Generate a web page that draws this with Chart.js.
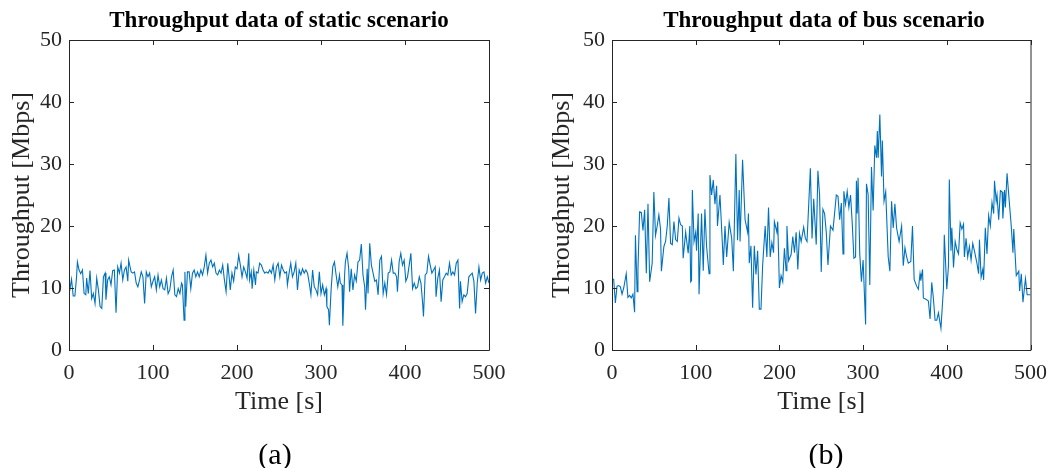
<!DOCTYPE html>
<html>
<head>
<meta charset="utf-8">
<script src="https://cdn.jsdelivr.net/npm/chart.js@4/dist/chart.umd.min.js"></script>
<style>
  body { margin: 0; background: #fff; }
  #wrap { position: relative; width: 1057px; height: 468px; font-family: "Liberation Serif", "Times New Roman", serif; }
  .panel { position: absolute; top: 0; height: 468px; }
  .title { position: absolute; top: 8px; font-weight: bold; font-size: 23px; line-height: 24px; color: #000; transform: translateX(-50%); white-space: nowrap; }
  .caption { position: absolute; top: 439px; font-size: 30px; line-height: 30px; color: #000; transform: translateX(-50%); }
</style>
</head>
<body>
<div id="wrap">
  <div class="panel" style="left:0;width:530px"><canvas id="staticChart" width="530" height="468"></canvas></div>
  <div class="panel" style="left:540px;width:517px"><canvas id="busChart" width="517" height="468"></canvas></div>
  <div class="title" style="left:279px">Throughput data of static scenario</div>
  <div class="title" style="left:824px">Throughput data of bus scenario</div>
  <div class="caption" style="left:275px">(a)</div>
  <div class="caption" style="left:826px">(b)</div>
</div>
<script>
// axis ticks
const timeTicks = [0, 100, 200, 300, 400, 500];
const throughputTicks = [0, 10, 20, 30, 40, 50];

// [time s, throughput Mbps]
const staticSamples = [
  [0,8.9],[3,11.4],[5,8.7],[7,8.7],[9,11.8],[10,14.2],[12,12.9],[14,12.3],[16,12.9],[18,9.1],
  [20,8.9],[21,11.6],[23,9.1],[25,12.8],[27,8.3],[29,9.1],[31,7.5],[33,11.6],[35,9.7],[37,7.0],
  [39,6.7],[41,11.8],[43,12.4],[44,8.1],[46,11.3],[48,11.8],[50,10.5],[52,12.8],[54,12.9],[56,6.0],
  [58,13.4],[60,12.4],[62,14.0],[64,11.3],[66,12.9],[68,13.4],[70,11.1],[71,14.5],[74,12.6],[76,12.4],
  [78,12.6],[80,10.8],[82,10.2],[84,11.3],[86,12.6],[88,11.8],[90,7.5],[92,12.6],[94,11.8],[96,12.4],
  [98,10.2],[100,11.1],[102,11.8],[104,9.7],[106,12.1],[108,10.2],[110,11.3],[112,9.9],[114,9.7],[116,11.6],
  [118,9.1],[120,9.7],[122,11.8],[124,12.9],[126,8.9],[128,8.6],[130,9.9],[132,9.1],[134,10.8],[135,10.5],
  [137,4.8],[138,12.6],[139,7.0],[141,12.6],[143,12.6],[145,9.9],[147,12.4],[149,12.9],[151,11.8],[153,12.6],
  [155,11.8],[157,12.9],[159,12.1],[161,13.4],[163,15.3],[165,12.4],[167,14.0],[169,14.5],[171,13.4],[173,14.0],
  [175,12.4],[177,12.1],[179,12.9],[181,12.4],[183,13.7],[185,11.3],[187,9.4],[189,14.0],[191,11.3],[192,9.7],
  [194,12.4],[196,11.1],[198,13.4],[200,13.1],[202,15.3],[204,13.7],[206,11.8],[208,13.4],[210,12.6],[212,11.6],
  [214,15.6],[215,11.3],[217,12.6],[218,9.9],[220,12.9],[222,10.5],[223,12.6],[225,12.4],[227,14.0],[229,13.7],
  [231,12.9],[233,12.4],[235,12.6],[237,12.4],[239,12.9],[241,12.4],[243,13.7],[245,11.3],[247,13.4],[249,14.0],
  [251,11.8],[253,13.7],[255,12.9],[257,12.4],[259,12.6],[260,10.5],[262,12.4],[264,14.0],[266,11.8],[268,12.6],
  [270,14.0],[272,9.7],[274,12.9],[276,12.1],[278,13.1],[280,12.4],[282,12.9],[284,12.4],[286,10.8],[288,8.9],
  [290,12.9],[292,10.2],[294,9.7],[296,8.9],[298,12.6],[300,9.1],[302,10.5],[304,8.9],[306,9.9],[307,7.0],
  [309,6.5],[310,4.0],[312,9.7],[314,13.4],[316,14.2],[318,12.1],[320,10.2],[322,12.1],[323,10.8],[325,10.5],
  [326,3.9],[328,11.8],[329,14.2],[331,15.6],[333,13.1],[334,9.4],[336,13.1],[338,9.7],[340,12.1],[342,11.1],
  [344,14.2],[346,14.5],[348,17.1],[350,12.1],[352,10.2],[353,6.5],[355,13.1],[356,9.1],[358,17.2],[360,13.7],
  [362,12.4],[364,11.1],[366,11.3],[368,8.9],[370,14.5],[372,15.1],[374,9.1],[376,10.8],[378,8.9],[380,12.4],
  [382,12.6],[384,14.5],[386,12.4],[388,12.4],[390,11.8],[391,9.4],[393,14.2],[395,15.6],[397,13.7],[399,14.5],
  [401,11.1],[403,11.8],[405,13.7],[407,15.6],[409,9.9],[411,10.8],[413,9.9],[415,10.2],[417,11.8],[419,10.8],
  [421,7.5],[422,5.4],[424,12.1],[426,12.4],[428,15.1],[430,13.7],[432,12.4],[434,12.9],[436,13.4],[437,8.6],
  [439,11.6],[441,12.9],[443,7.8],[445,11.3],[447,11.8],[449,12.4],[451,12.1],[453,14.0],[455,12.1],[457,12.6],
  [459,12.1],[461,14.0],[463,14.5],[465,6.7],[466,11.1],[468,7.8],[470,8.9],[472,8.6],[474,9.1],[476,11.8],
  [478,12.1],[480,12.4],[482,11.1],[484,5.9],[486,10.8],[488,13.4],[490,11.3],[492,12.4],[494,12.6],[496,10.8],
  [498,11.8],[500,10.8]
];

// [time s, throughput Mbps]
const busSamples = [
  [0,11.5],[2,11.4],[4,7.6],[6,10.3],[8,10.4],[10,10.2],[12,9.0],[14,10.0],[17,12.3],[19,8.5],
  [21,8.8],[23,8.4],[25,9.0],[27,6.1],[28,18.5],[30,9.4],[31,13.0],[33,22.3],[35,22.2],[37,19.3],
  [39,22.6],[41,12.4],[43,23.6],[45,11.0],[48,14.0],[50,25.5],[52,18.5],[54,20.0],[56,21.8],[58,19.5],
  [59,12.7],[62,16.7],[64,17.5],[66,20.0],[68,24.5],[70,17.2],[72,17.0],[74,20.7],[76,17.8],[78,17.5],
  [80,21.3],[82,20.2],[84,20.0],[85,14.8],[88,19.0],[91,15.6],[93,20.0],[94,11.0],[95,11.2],[96,25.8],
  [98,17.5],[100,19.0],[101,16.0],[103,22.0],[104,9.0],[107,22.0],[109,12.8],[111,22.7],[113,16.7],[116,12.3],
  [117,28.2],[119,25.0],[121,27.4],[123,23.5],[125,26.5],[126,20.0],[129,25.0],[132,16.8],[133,13.7],[135,20.0],
  [137,15.0],[140,20.6],[143,18.0],[145,12.7],[148,31.6],[150,17.7],[152,25.8],[153,17.5],[156,30.7],[159,21.0],
  [162,19.0],[163,22.0],[164,14.0],[166,16.8],[168,6.8],[170,16.8],[172,12.2],[174,16.0],[176,6.6],[178,6.6],
  [180,13.7],[183,20.0],[185,15.0],[187,23.0],[189,15.0],[191,17.3],[193,15.7],[194,20.7],[197,19.0],[198,20.7],
  [199,15.6],[200,10.0],[202,12.0],[204,11.0],[206,16.4],[208,12.8],[209,20.0],[211,14.4],[214,15.4],[216,18.3],
  [218,15.7],[220,19.0],[222,13.0],[224,18.8],[226,17.5],[229,19.8],[231,18.0],[233,17.5],[237,29.3],[239,18.0],
  [241,24.4],[244,17.0],[246,28.9],[248,25.0],[250,12.6],[252,22.7],[254,22.0],[256,19.0],[258,13.7],[261,20.0],
  [264,19.3],[268,25.0],[270,24.8],[272,21.0],[274,23.7],[276,15.5],[277,25.6],[279,23.5],[281,25.6],[283,23.0],
  [285,25.0],[287,20.5],[289,14.8],[291,15.0],[292,27.3],[293,22.0],[294,27.8],[296,15.5],[298,11.0],[300,14.5],
  [303,4.1],[304,26.8],[306,25.1],[308,10.5],[310,29.5],[312,22.5],[314,33.0],[316,31.0],[317,35.3],[318,31.0],
  [320,38.0],[322,28.0],[323,33.8],[325,24.0],[327,25.5],[330,15.0],[332,12.7],[334,24.0],[336,19.7],[338,23.6],
  [340,19.7],[343,17.5],[346,20.0],[348,13.6],[350,16.5],[352,15.0],[354,14.0],[357,14.3],[359,20.0],[361,11.4],
  [364,10.3],[366,9.8],[368,12.3],[369,11.2],[371,13.0],[372,8.4],[375,8.2],[378,7.9],[380,5.0],[382,10.9],
  [384,8.3],[386,4.8],[388,4.8],[390,6.0],[393,3.5],[396,10.0],[397,18.6],[400,9.8],[402,13.6],[403,27.5],
  [405,16.0],[406,19.7],[408,13.3],[410,17.5],[412,16.2],[414,15.5],[416,20.5],[418,19.5],[420,20.3],[421,15.0],
  [423,18.0],[425,15.0],[427,16.7],[429,14.5],[431,17.2],[433,16.0],[436,14.0],[438,12.3],[439,17.8],[441,11.7],
  [443,13.0],[444,11.3],[446,19.7],[448,15.5],[450,21.7],[452,20.0],[454,23.8],[456,22.0],[457,27.3],[459,24.0],
  [460,25.0],[462,21.0],[464,25.7],[466,25.5],[467,21.2],[469,25.8],[470,23.0],[472,28.5],[474,25.0],[477,20.0],
  [479,15.7],[480,19.5],[483,12.0],[486,12.7],[487,9.5],[489,12.3],[491,7.7],[493,10.3],[494,11.5],[496,8.9],
  [500,8.9]
];

const axisColor = '#262626';
const serif = '"Liberation Serif", "Times New Roman", serif';

// MATLAB-style box with inward ticks on all four sides
const boxTicks = {
  id: 'boxTicks',
  afterDraw(chart) {
    const { ctx, chartArea: a, scales } = chart;
    const len = 5;
    ctx.save();
    ctx.strokeStyle = axisColor;
    ctx.lineWidth = 1;
    ctx.beginPath();
    ctx.rect(a.left + 0.5, a.top + 0.5, a.right - a.left, a.bottom - a.top);
    timeTicks.forEach(t => {
      const x = Math.round(scales.x.getPixelForValue(t)) + 0.5;
      ctx.moveTo(x, a.bottom); ctx.lineTo(x, a.bottom - len);
      ctx.moveTo(x, a.top); ctx.lineTo(x, a.top + len);
    });
    throughputTicks.forEach(v => {
      const y = Math.round(scales.y.getPixelForValue(v)) + 0.5;
      ctx.moveTo(a.left, y); ctx.lineTo(a.left + len, y);
      ctx.moveTo(a.right, y); ctx.lineTo(a.right - len, y);
    });
    ctx.stroke();
    ctx.restore();
  }
};

function makeChart(id, samples, yAxisWidth, rightPad) {
  return new Chart(document.getElementById(id), {
    type: 'line',
    data: {
      datasets: [{
        data: samples.map(([t, v]) => ({ x: t, y: v })),
        borderColor: '#0072BD',
        borderWidth: 1.1,
        pointRadius: 0,
        tension: 0,
      }]
    },
    options: {
      responsive: false,
      animation: false,
      layout: { padding: { top: 40, right: rightPad, left: 0, bottom: 0 } },
      plugins: { legend: { display: false }, tooltip: { enabled: false } },
      scales: {
        x: {
          type: 'linear', min: 0, max: 500,
          afterBuildTicks: s => { s.ticks = timeTicks.map(v => ({ value: v })); },
          afterFit: s => { s.height = 118; },
          grid: { display: false, drawTicks: false }, border: { display: false },
          ticks: { color: axisColor, padding: 10, maxRotation: 0, font: { family: serif, size: 22 } },
          title: { display: true, text: 'Time [s]', color: axisColor, padding: { top: 0, bottom: 50 }, font: { family: serif, size: 26 } }
        },
        y: {
          min: 0, max: 50,
          afterBuildTicks: s => { s.ticks = throughputTicks.map(v => ({ value: v })); },
          afterFit: s => { s.width = yAxisWidth; },
          grid: { display: false, drawTicks: false }, border: { display: false },
          ticks: { color: axisColor, padding: 7, font: { family: serif, size: 22 } },
          title: { display: true, text: 'Throughput [Mbps]', color: axisColor, padding: { top: 7, bottom: 0 }, font: { family: serif, size: 26 } }
        }
      }
    },
    plugins: [boxTicks]
  });
}

makeChart('staticChart', staticSamples, 69, 41);
makeChart('busChart', busSamples, 72, 23);
</script>
</body>
</html>
